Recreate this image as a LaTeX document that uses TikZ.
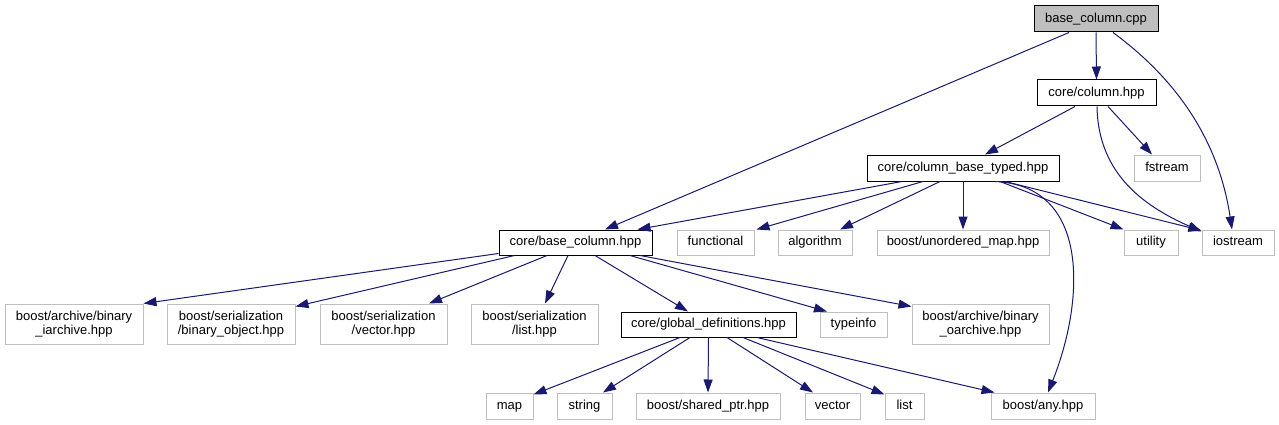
\documentclass[tikz,border=0pt]{standalone}
\usepackage{fontspec}
\setmainfont{Liberation Sans}
\usetikzlibrary{arrows.meta}
\definecolor{grey75}{HTML}{BFBFBF}
\definecolor{edgeblue}{HTML}{191970}
\begin{document}
\begin{tikzpicture}[x=1pt,y=-1pt,
  box/.style={line width=1pt, inner sep=0pt, font=\fontsize{13}{14}\selectfont, align=center, text=black},
  sl/.style={text height=9.5pt, text depth=3pt},
  root/.style={box, draw=black, fill=grey75},
  doc/.style={box, draw=black, fill=white},
  ext/.style={box, draw=grey75, fill=white},
  sz/.style 2 args={minimum width=#1pt, minimum height=#2pt},
  incl/.style={draw=edgeblue, line width=1pt, -{Triangle[length=13pt,width=9pt]}}]
\fill[white] (0,0) rectangle (1279,425);
\useasboundingbox (0,0) rectangle (1279,425);

% nodes
\node[root, sl, sz={124}{26}] (cpp) at (1096,19) {base\_column.cpp};
\node[doc, sl, sz={119}{26}] (col) at (1096.5,93) {core/column.hpp};
\node[ext, sl, sz={66}{26}] (fst) at (1167,168) {fstream};
\node[doc, sl, sz={192}{26}] (cbt) at (963,168) {core/column\_base\_typed.hpp};
\node[doc, sl, sz={153}{25}] (bch) at (575.5,242.5) {core/base\_column.hpp};
\node[ext, sl, sz={77}{25}] (fun) at (715.5,242.5) {functional};
\node[ext, sl, sz={74}{25}] (alg) at (815,242.5) {algorithm};
\node[ext, sl, sz={172}{25}] (umap) at (963,242.5) {boost/unordered\_map.hpp};
\node[ext, sl, sz={54}{25}] (util) at (1151,242.5) {utility};
\node[ext, sl, sz={72}{25}] (ios) at (1238,242.5) {iostream};
\node[ext, sz={138}{40}] (bia) at (74,324) {boost/archive/binary\\\_iarchive.hpp};
\node[ext, sz={128}{40}] (bobj) at (231,324) {boost/serialization\\/binary\_object.hpp};
\node[ext, sz={127}{40}] (svec) at (383.5,324) {boost/serialization\\/vector.hpp};
\node[ext, sz={127}{40}] (slist) at (534.5,324) {boost/serialization\\/list.hpp};
\node[doc, sl, sz={175}{25}] (gdef) at (708.5,324.5) {core/global\_definitions.hpp};
\node[ext, sl, sz={67}{25}] (tinfo) at (853.5,324.5) {typeinfo};
\node[ext, sz={137}{40}] (boa) at (980.5,324) {boost/archive/binary\\\_oarchive.hpp};
\node[ext, sl, sz={47}{26}] (map) at (509.5,406) {map};
\node[ext, sl, sz={55}{26}] (str) at (584.5,406) {string};
\node[ext, sl, sz={144}{26}] (sptr) at (708,406) {boost/shared\_ptr.hpp};
\node[ext, sl, sz={55}{26}] (vec) at (832.5,406) {vector};
\node[ext, sl, sz={39}{26}] (lst) at (904.5,406) {list};
\node[ext, sl, sz={104}{26}] (any) at (1043,406) {boost/any.hpp};

% edges from base_column.cpp
\draw[incl] (cpp.south) -- (col.north);
\draw[incl] ([xshift=-27pt]cpp.south) -- ([xshift=29.5pt]bch.north);
\draw[incl] ([xshift=17pt]cpp.south) .. controls +(72,53) and +(-12,-80) .. ([xshift=-6pt]ios.north);

% edges from core/column.hpp
\draw[incl] ([xshift=-21.5pt]col.south) -- ([xshift=22pt]cbt.north);
\draw[incl] ([xshift=11.5pt]col.south) -- ([xshift=-15pt]fst.north);
\draw[incl] ([xshift=0.5pt]col.south) .. controls +(1,64) and +(-62,-27) .. ([yshift=-2pt]ios.north west);

% edges from core/column_base_typed.hpp
\draw[incl] ([xshift=-61pt]cbt.south) -- ([xshift=-15pt]bch.north east);
\draw[incl] ([xshift=-40pt]cbt.south) -- ([xshift=2pt]fun.north east);
\draw[incl] ([xshift=-23pt]cbt.south) -- ([xshift=25pt]alg.north);
\draw[incl] (cbt.south) -- (umap.north);
\draw[incl] ([xshift=32pt]cbt.south) .. controls +(95,4) and +(37,-93) .. ([xshift=5pt]any.north);
\draw[incl] ([xshift=37pt]cbt.south) -- (util.north west);
\draw[incl] ([xshift=42pt]cbt.south) -- ([yshift=-1pt]ios.north west);

% edges from core/base_column.hpp
\draw[incl] ([yshift=2pt]bch.south west) -- (bia.north east);
\draw[incl] ([xshift=16pt]bch.south west) -- ([yshift=-3pt]bobj.north east);
\draw[incl] ([xshift=-28.5pt]bch.south) -- ([xshift=45.5pt]svec.north);
\draw[incl] ([xshift=-7.5pt]bch.south) -- ([xshift=10.5pt]slist.north);
\draw[incl] ([xshift=19.5pt]bch.south) -- ([xshift=-20.5pt]gdef.north);
\draw[incl] ([xshift=54.5pt]bch.south) -- ([xshift=-26.5pt]tinfo.north);
\draw[incl] ([xshift=64.5pt]bch.south) -- ([yshift=-3pt]boa.north west);

% edges from core/global_definitions.hpp
\draw[incl] ([xshift=-28.5pt]gdef.south) -- ([yshift=-2pt]map.north east);
\draw[incl] ([xshift=-18.5pt]gdef.south) -- ([xshift=18.5pt]str.north);
\draw[incl] (gdef.south) -- (sptr.north);
\draw[incl] ([xshift=18.5pt]gdef.south) -- ([xshift=-19.5pt]vec.north);
\draw[incl] ([xshift=34.5pt]gdef.south) -- ([yshift=-2pt]lst.north west);
\draw[incl] ([xshift=48.5pt]gdef.south) -- ([xshift=4pt]any.north west);
\end{tikzpicture}
\end{document}
